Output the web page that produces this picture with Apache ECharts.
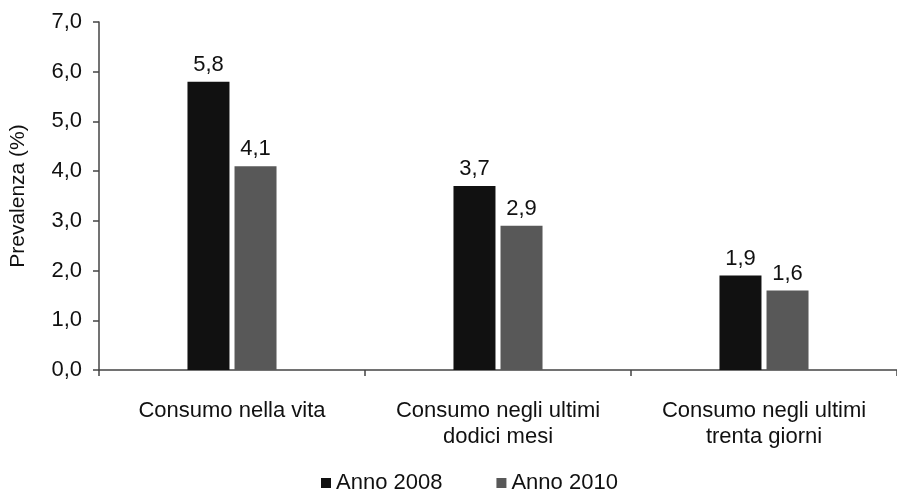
<!DOCTYPE html>
<html>
<head>
<meta charset="utf-8">
<script src="https://cdn.jsdelivr.net/npm/echarts@6/dist/echarts.min.js"></script>
<style>
  html, body { margin: 0; padding: 0; background: #fff; }
  #chart { width: 897px; height: 495px; }
</style>
</head>
<body>
<div id="chart"></div>
<script>
const categories = ['Consumo nella vita', 'Consumo negli ultimi\ndodici mesi', 'Consumo negli ultimi\ntrenta giorni']
const anno2008 = [5.8, 3.7, 1.9]
const anno2010 = [4.1, 2.9, 1.6]
const seriesNames = ['Anno 2008', 'Anno 2010']

const font = 'Liberation Sans, Arial, sans-serif'
const comma = v => v.toFixed(1).replace('.', ',')

const chart = echarts.init(document.getElementById('chart'))

const barLabel = {
  show: true,
  position: 'top',
  distance: 6,
  color: '#111',
  fontFamily: font,
  fontSize: 22,
  formatter: p => comma(p.value)
}

chart.setOption({
  animation: false,
  backgroundColor: '#fff',
  grid: { left: 97, right: -9, top: 22, bottom: 125 },
  legend: {
    bottom: -4,
    left: 316,
    itemWidth: 10,
    itemHeight: 10,
    itemGap: 54,
    icon: 'rect',
    textStyle: { fontFamily: font, fontSize: 22, color: '#111' },
    data: seriesNames
  },
  xAxis: {
    type: 'category',
    data: categories,
    axisLine: { lineStyle: { color: '#444', width: 1.5 } },
    axisTick: { show: true, length: 6, lineStyle: { color: '#444', width: 1.5 } },
    axisLabel: {
      margin: 28,
      color: '#111',
      fontFamily: font,
      fontSize: 22,
      lineHeight: 26,
      interval: 0
    }
  },
  yAxis: {
    type: 'value',
    min: 0,
    max: 7,
    interval: 1,
    name: 'Prevalenza (%)',
    nameLocation: 'middle',
    nameRotate: 90,
    nameGap: 70,
    nameTextStyle: { fontFamily: font, fontSize: 21, color: '#111' },
    axisLine: { show: true, lineStyle: { color: '#444', width: 1.5 } },
    axisTick: { show: true, length: 6, lineStyle: { color: '#444', width: 1.5 } },
    splitLine: { show: false },
    axisLabel: {
      margin: 17,
      color: '#111',
      fontFamily: font,
      fontSize: 22,
      formatter: v => comma(v)
    }
  },
  series: [
    {
      name: seriesNames[0],
      type: 'bar',
      data: anno2008,
      barWidth: 42,
      barGap: '12%',
      itemStyle: { color: '#111' },
      label: barLabel
    },
    {
      name: seriesNames[1],
      type: 'bar',
      data: anno2010,
      barWidth: 42,
      itemStyle: { color: '#585858' },
      label: barLabel
    }
  ]
})
</script>
</body>
</html>
